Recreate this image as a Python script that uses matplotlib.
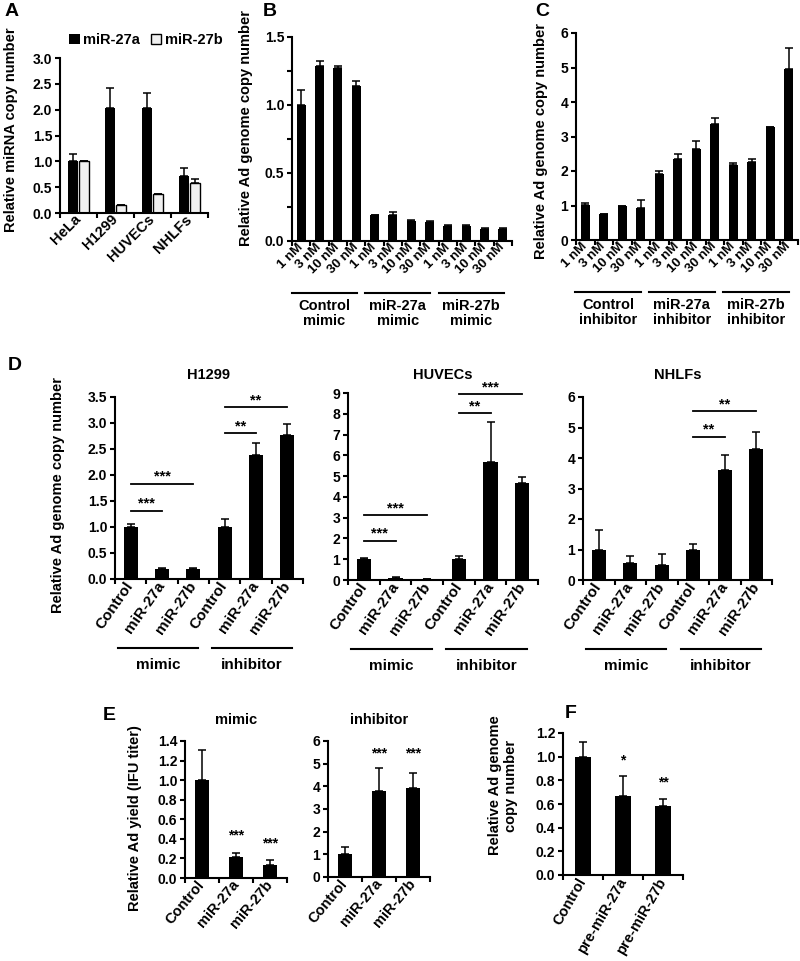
import numpy as np
import matplotlib
matplotlib.use('Agg')
from matplotlib import pyplot as plt

plt.rcParams['font.family'] = ['Liberation Sans', 'DejaVu Sans']
plt.rcParams['font.weight'] = 'bold'
plt.rcParams['axes.labelweight'] = 'bold'

W, H = 800, 961

# ---- data ----
# A
cells_a = ['HeLa', 'H1299', 'HUVECs', 'NHLFs']
mir27a_a = [1.00, 2.03, 2.03, 0.71]
mir27a_a_err = [0.14, 0.38, 0.29, 0.17]
mir27b_a = [1.00, 0.15, 0.36, 0.58]
mir27b_a_err = [0.0, 0.01, 0.01, 0.08]

# B, C
doses = ['1 nM', '3 nM', '10 nM', '30 nM']
mimic_groups = ['Control\nmimic', 'miR-27a\nmimic', 'miR-27b\nmimic']
b_vals = [1.00, 1.29, 1.27, 1.14, 0.19, 0.19, 0.15, 0.14, 0.11, 0.11, 0.09, 0.09]
b_err = [0.11, 0.03, 0.02, 0.04, 0.004, 0.02, 0.004, 0.004, 0.004, 0.01, 0.003, 0.003]
inhib_groups = ['Control\ninhibitor', 'miR-27a\ninhibitor', 'miR-27b\ninhibitor']
c_vals = [1.02, 0.75, 0.98, 0.93, 1.90, 2.35, 2.65, 3.37, 2.18, 2.25, 3.28, 4.97]
c_err = [0.05, 0.0, 0.02, 0.24, 0.11, 0.15, 0.22, 0.16, 0.05, 0.10, 0.0, 0.60]

# D
d_labels = ['Control', 'miR-27a', 'miR-27b', 'Control', 'miR-27a', 'miR-27b']
d_groups = ['mimic', 'inhibitor']
h1299_vals = [1.00, 0.20, 0.20, 1.00, 2.39, 2.76]
h1299_err = [0.05, 0.01, 0.01, 0.15, 0.23, 0.23]
h1299_sig = [(0, 1, 1.31, '***'), (0, 2, 1.83, '***'), (3, 4, 2.80, '**'), (3, 5, 3.30, '**')]
huvec_vals = [1.00, 0.08, 0.03, 1.00, 5.70, 4.65]
huvec_err = [0.05, 0.06, 0.01, 0.17, 1.92, 0.32]
huvec_sig = [(0, 1, 1.88, '***'), (0, 2, 3.12, '***'), (3, 4, 8.03, '**'), (3, 5, 8.94, '***')]
nhlf_vals = [1.00, 0.57, 0.50, 1.00, 3.60, 4.28]
nhlf_err = [0.63, 0.23, 0.35, 0.17, 0.50, 0.57]
nhlf_sig = [(3, 4, 4.69, '**'), (3, 5, 5.54, '**')]

# E
e_labels = ['Control', 'miR-27a', 'miR-27b']
e_mimic_vals = [1.00, 0.21, 0.13]
e_mimic_err = [0.31, 0.05, 0.05]
e_mimic_star = [None, 0.43, 0.35]
e_inhib_vals = [1.00, 3.78, 3.93]
e_inhib_err = [0.32, 1.05, 0.65]
e_inhib_star = [None, 5.45, 5.45]

# F
f_labels = ['Control', 'pre-miR-27a', 'pre-miR-27b']
f_vals = [1.00, 0.67, 0.58]
f_err = [0.12, 0.17, 0.06]
f_star = [(1, 0.97, '*'), (2, 0.78, '**')]

fig = plt.figure(figsize=(W / 100, H / 100), dpi=100)


def px_axes(l, t, r, b):
    ax = fig.add_axes([l / W, 1 - b / H, (r - l) / W, (b - t) / H])
    for s in ('top', 'right'):
        ax.spines[s].set_visible(False)
    for s in ('left', 'bottom'):
        ax.spines[s].set_linewidth(1.5)
    ax.tick_params(axis='y', length=3.5, width=1.5, labelsize=10, pad=2)
    ax.tick_params(axis='x', which='major', length=0, pad=3)
    ax.tick_params(axis='x', which='minor', length=3.5, width=1.5)
    return ax


def bars(ax, vals, err, labels, rot, size, width=0.45):
    n = len(vals)
    x = np.arange(n)
    ax.bar(x, vals, width=width, color='black', zorder=2)
    ax.errorbar(x, vals, yerr=[np.zeros(n), err], fmt='none', ecolor='black',
                elinewidth=1.1, capsize=3, capthick=1.1, zorder=1)
    ax.set_xlim(-0.5, n - 0.5)
    ax.set_xticks(x)
    ax.set_xticks(np.arange(n + 1) - 0.5, minor=True)
    ax.set_xticklabels(labels, rotation=rot, ha='right', va='center',
                       rotation_mode='anchor', fontsize=size)


def groups(ax, spans, names, line_px, text_px, h_px, size=10.5):
    tr = ax.get_xaxis_transform()
    for (a, b), name in zip(spans, names):
        ax.plot([a, b], [-line_px / h_px] * 2, color='black', lw=1.5,
                transform=tr, clip_on=False)
        ax.text((a + b) / 2, -text_px / h_px, name, transform=tr, ha='center',
                va='top', fontsize=size, linespacing=1.1)


def sig(ax, items):
    for i, j, y, txt in items:
        ax.plot([i, j], [y, y], color='black', lw=1.3, clip_on=False)
        ax.text((i + j) / 2, y, txt, ha='center', va='bottom', fontsize=10.5)


def ylabel(ax, text, right_px, left_px, width_px, ycoord):
    ax.set_ylabel(text, fontsize=10.5)
    ax.yaxis.set_label_coords((right_px - left_px) / width_px, ycoord)


# ---- A ----
ax = px_axes(60, 58, 208, 213)
xa = np.arange(len(cells_a))
ax.bar(xa - 0.15, mir27a_a, width=0.27, color='black', zorder=2, label='miR-27a')
ax.bar(xa + 0.15, mir27b_a, width=0.27, color='#f0f0f0', edgecolor='black',
       linewidth=1, zorder=2, label='miR-27b')
ax.errorbar(xa - 0.15, mir27a_a, yerr=[np.zeros(4), mir27a_a_err], fmt='none',
            ecolor='black', elinewidth=1.1, capsize=3, capthick=1.1, zorder=1)
ax.errorbar(xa + 0.15, mir27b_a, yerr=[np.zeros(4), mir27b_a_err], fmt='none',
            ecolor='black', elinewidth=1.1, capsize=3, capthick=1.1, zorder=1)
ax.set_xlim(-0.5, 3.5)
ax.set_xticks(xa)
ax.set_xticks(np.arange(5) - 0.5, minor=True)
ax.set_xticklabels(cells_a, rotation=45, ha='right', va='center',
                   rotation_mode='anchor', fontsize=10.5)
ax.set_ylim(0, 3)
ax.set_yticks(np.arange(0, 3.01, 0.5))
ax.set_yticklabels(['%.1f' % v for v in np.arange(0, 3.01, 0.5)])
ylabel(ax, 'Relative miRNA copy number', 18, 60, 148, 0.54)
ax.legend(loc='center', bbox_to_anchor=(0.58, 1.116), ncol=2, frameon=False,
          fontsize=10.5, handlelength=0.75, handleheight=0.75, handletextpad=0.25,
          columnspacing=0.7, borderpad=0)

# ---- B ----
ax = px_axes(292, 37, 512, 241)
bars(ax, b_vals, b_err, doses * 3, 45, 9.5, width=0.5)
ax.set_ylim(0, 1.5)
ax.set_yticks([0, 0.5, 1.0, 1.5])
ax.set_yticklabels(['0.0', '0.5', '1.0', '1.5'])
ax.set_yticks([0.25, 0.75, 1.25], minor=True)
ax.tick_params(axis='y', which='minor', length=3.5, width=1.5)
ylabel(ax, 'Relative Ad genome copy number', 253, 292, 220, 0.554)
groups(ax, [(4 * g - 0.5, 4 * g + 3.05) for g in range(3)], mimic_groups, 52, 58, 204)

# ---- C ----
ax = px_axes(576, 33, 798, 240)
bars(ax, c_vals, c_err, doses * 3, 45, 9.5, width=0.5)
ax.set_ylim(0, 6)
ax.set_yticks(range(7))
ylabel(ax, 'Relative Ad genome copy number', 548, 576, 222, 0.48)
groups(ax, [(4 * g - 0.55, 4 * g + 3.0) for g in range(3)], inhib_groups, 52, 58, 207)

# ---- D ----
d_specs = [
    ('H1299', (115, 397, 303, 579), h1299_vals, h1299_err, h1299_sig, 3.5, 0.5),
    ('HUVECs', (348, 393, 538, 580), huvec_vals, huvec_err, huvec_sig, 9, 1),
    ('NHLFs', (583, 397, 772, 580), nhlf_vals, nhlf_err, nhlf_sig, 6, 1),
]
for k, (title, box, vals, err, marks, top, step) in enumerate(d_specs):
    ax = px_axes(*box)
    h_px = box[3] - box[1]
    bars(ax, vals, err, d_labels, 55, 11)
    ax.set_ylim(0, top)
    ticks = np.arange(0, top + 0.001, step)
    ax.set_yticks(ticks)
    if step < 1:
        ax.set_yticklabels(['%.1f' % v for v in ticks])
    sig(ax, marks)
    groups(ax, [(3 * g - 0.4, 3 * g + 2.15) for g in range(2)], d_groups, 69, 79, h_px, 11)
    ax.text(0.5, 1 + (box[1] - 375) / h_px, title, transform=ax.transAxes,
            ha='center', va='center', fontsize=10.5)
    if k == 0:
        ylabel(ax, 'Relative Ad genome copy number', 65, 115, 188, 0.46)

# ---- E ----
for title, box, vals, err, stars, top, step in [
        ('mimic', (185, 741, 287, 878), e_mimic_vals, e_mimic_err, e_mimic_star, 1.4, 0.2),
        ('inhibitor', (328, 741, 430, 877), e_inhib_vals, e_inhib_err, e_inhib_star, 6, 1)]:
    ax = px_axes(*box)
    h_px = box[3] - box[1]
    bars(ax, vals, err, e_labels, 50, 10.5, width=0.44)
    ax.set_ylim(0, top)
    ticks = np.arange(0, top + 0.001, step)
    ax.set_yticks(ticks)
    if step < 1:
        ax.set_yticklabels(['%.1f' % v for v in ticks])
        ylabel(ax, 'Relative Ad yield (IFU titer)', 142, 185, 102, 0.44)
    for i, s in enumerate(stars):
        if s is not None:
            ax.text(i, s, '***', ha='center', va='center', fontsize=10)
    ax.text(0.5, 1 + (box[1] - 720) / h_px, title, transform=ax.transAxes,
            ha='center', va='center', fontsize=10.5)

# ---- F ----
ax = px_axes(563, 733, 683, 875)
bars(ax, f_vals, f_err, f_labels, 60, 10.5, width=0.42)
ax.set_ylim(0, 1.2)
fticks = np.arange(0, 1.201, 0.2)
ax.set_yticks(fticks)
ax.set_yticklabels(['%.1f' % v for v in fticks])
ylabel(ax, 'Relative Ad genome\ncopy number', 518, 563, 120, 0.63)
for i, y, txt in f_star:
    ax.text(i, y, txt, ha='center', va='center', fontsize=10)

# panel letters
for letter, x, y in [('A', 5, 12), ('B', 263, 12), ('C', 535, 12),
                     ('D', 8, 366), ('E', 103, 715), ('F', 565, 713)]:
    fig.text(x / W, 1 - y / H, letter, fontsize=14, ha='left', va='center')

fig.savefig('out.png', dpi=100)
